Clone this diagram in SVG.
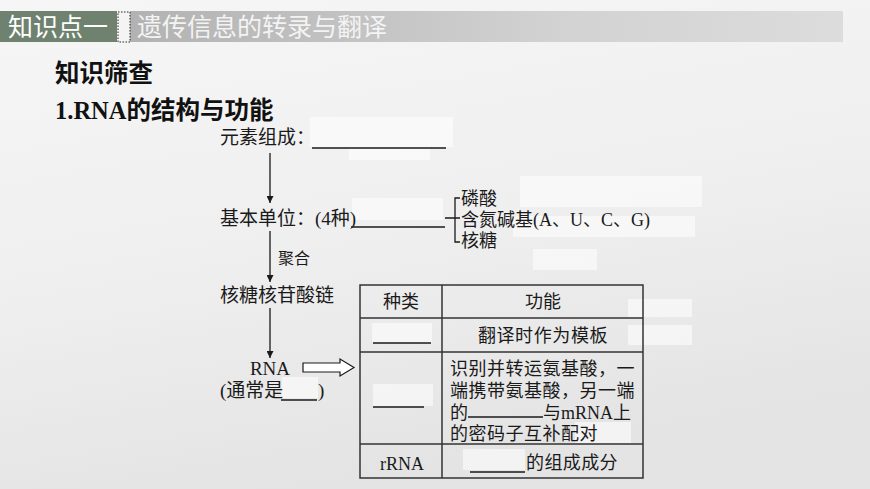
<svg xmlns="http://www.w3.org/2000/svg" width="870" height="489" viewBox="0 0 870 489">
<defs>
<linearGradient id="bg" x1="0" y1="0" x2="0.3" y2="1">
<stop offset="0" stop-color="#f6f6f6"/>
<stop offset="0.55" stop-color="#efefef"/>
<stop offset="1" stop-color="#e4e4e4"/>
</linearGradient>
<linearGradient id="bar" x1="0" y1="0" x2="1" y2="0">
<stop offset="0" stop-color="#b2b2b2"/>
<stop offset="0.6" stop-color="#d2d2d2"/>
<stop offset="1" stop-color="#dcdcdc"/>
</linearGradient>
<marker id="ah" viewBox="0 0 10 10" refX="10" refY="5" markerWidth="7" markerHeight="7" orient="auto" markerUnits="userSpaceOnUse">
<path d="M0,0 L10,5 L0,10 Z" fill="#1a1a1a"/>
</marker>
<style>
.t{font-family:"Liberation Serif","Noto Sans CJK SC",serif;fill:#1a1a1a}
.m{font-size:19px}
.s{font-size:18px}
.h{font-family:"Liberation Serif","Noto Sans CJK SC",sans-serif;font-weight:bold;font-size:24.5px;fill:#111}
.ln{stroke:#1a1a1a;stroke-width:1.3;fill:none}
.tb{stroke:#333;stroke-width:1.5;fill:none}
.pt{fill:#ffffff;opacity:0.55}
</style>
</defs>
<rect width="870" height="489" fill="url(#bg)"/>

<g id="header">
<rect x="0" y="11" width="117" height="31" fill="#6e826f"/>
<rect x="130" y="11" width="713" height="31" fill="url(#bar)"/>
<rect x="118" y="12" width="12" height="30" fill="#f4f4f4" stroke="#222" stroke-width="1" stroke-dasharray="1.5,1.5"/>
<text x="8" y="36" font-family="'Noto Sans CJK SC',sans-serif" font-size="25" fill="#ffffff">知识点一</text>
<text x="137" y="36" font-family="'Noto Sans CJK SC',sans-serif" font-size="25" fill="#f3f3f3">遗传信息的转录与翻译</text>
</g>

<g id="patches">
<rect class="pt" x="310" y="117" width="143" height="30"/>
<rect class="pt" x="349" y="147" width="81" height="13"/>
<rect class="pt" x="352" y="198" width="91" height="22"/>
<rect class="pt" x="520" y="176" width="182" height="31"/>
<rect class="pt" x="513" y="216" width="182" height="21"/>
<rect class="pt" x="533" y="249" width="64" height="21"/>
<rect class="pt" x="628" y="299" width="64" height="18"/>
<rect class="pt" x="628" y="325" width="64" height="20"/>
<rect class="pt" x="372" y="323" width="60" height="20"/>
<rect class="pt" x="373" y="384" width="60" height="22"/>
<rect class="pt" x="575" y="422" width="56" height="21"/>
<rect class="pt" x="463" y="449" width="62" height="21"/>
<rect class="pt" x="282" y="377" width="36" height="21"/>
</g>

<g id="headings">
<text class="h" x="55" y="82">知识筛查</text>
<text class="h" x="55" y="119">1.RNA的结构与功能</text>
</g>

<g id="node-elements">
<text class="t m" x="220" y="144">元素组成：</text>
<line class="ln" x1="312" y1="148" x2="446" y2="148"/>
</g>

<g id="node-unit">
<text class="t m" x="220" y="225">基本单位：(4种)</text>
<line class="ln" x1="351" y1="227" x2="445" y2="227"/>
</g>

<g id="node-components">
<path class="ln" d="M460,198 H455 V242 H460 M445,218 H460"/>
<text class="t s" x="461" y="205">磷酸</text>
<text class="t s" x="461" y="226">含氮碱基(A、U、C、G)</text>
<text class="t s" x="461" y="247">核糖</text>
</g>

<g id="node-chain">
<text class="t m" x="220" y="302">核糖核苷酸链</text>
</g>

<g id="node-rna">
<text class="t m" x="270" y="375" text-anchor="middle">RNA</text>
<text class="t m" x="220" y="397">(通常是</text>
<line class="ln" x1="281" y1="400" x2="317" y2="400"/>
<text class="t m" x="318" y="397">)</text>
</g>

<g id="connectors">
<line class="ln" x1="270" y1="153" x2="270" y2="203" marker-end="url(#ah)"/>
<line class="ln" x1="270" y1="231" x2="270" y2="282" marker-end="url(#ah)"/>
<text class="t" x="278" y="264" font-size="16">聚合</text>
<line class="ln" x1="270" y1="308" x2="270" y2="358" marker-end="url(#ah)"/>
<path d="M303,363 H340 V359 L354,367.5 L340,376 V372 H303 Z" fill="#ffffff" stroke="#1a1a1a" stroke-width="1.2"/>
</g>

<g id="node-table">
<rect class="tb" x="360" y="285" width="283" height="193"/>
<line class="tb" x1="442" y1="285" x2="442" y2="478"/>
<line class="tb" x1="360" y1="318" x2="643" y2="318"/>
<line class="tb" x1="360" y1="352" x2="643" y2="352"/>
<line class="tb" x1="360" y1="444" x2="643" y2="444"/>
<text class="t s" x="401" y="308" text-anchor="middle">种类</text>
<text class="t s" x="543" y="308" text-anchor="middle">功能</text>
<line class="ln" x1="373" y1="343" x2="431" y2="343"/>
<text class="t s" x="543" y="342" text-anchor="middle" letter-spacing="0.6">翻译时作为模板</text>
<line class="ln" x1="373" y1="407" x2="424" y2="407"/>
<text class="t s" x="450" y="375" letter-spacing="0.5">识别并转运氨基酸，一</text>
<text class="t s" x="450" y="397" letter-spacing="0.5">端携带氨基酸，另一端</text>
<text class="t s" x="450" y="419">的</text>
<line class="ln" x1="468" y1="417" x2="543" y2="417"/>
<text class="t s" x="543" y="419">与mRNA上</text>
<text class="t s" x="450" y="440" letter-spacing="0.5">的密码子互补配对</text>
<text class="t s" x="402" y="470" text-anchor="middle">rRNA</text>
<line class="ln" x1="470" y1="472" x2="525" y2="472"/>
<text class="t s" x="526" y="469" letter-spacing="0.4">的组成成分</text>
</g>
</svg>
